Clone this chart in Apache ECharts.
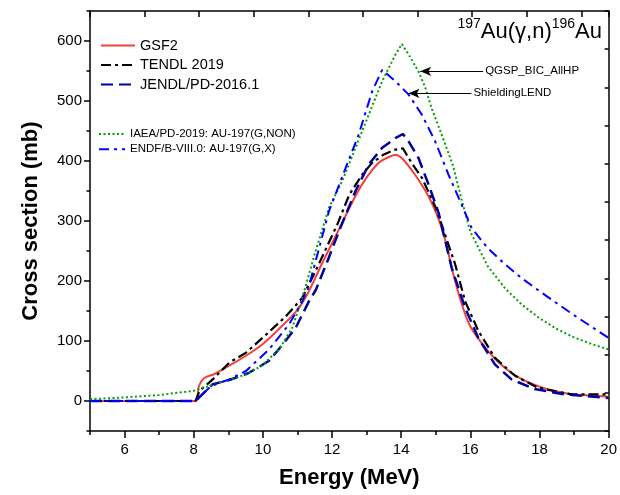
<!DOCTYPE html>
<html>
<head>
<meta charset="utf-8">
<script src="https://cdn.jsdelivr.net/npm/echarts@6/dist/echarts.min.js"></script>
<style>
  html, body { margin: 0; padding: 0; background: #fff; }
  #chart { width: 620px; height: 495px; }
</style>
</head>
<body>
<div id="chart"></div>
<script>
const FONT = '"Liberation Sans", Arial, Helvetica, sans-serif';

// GSF2 (solid red)
const gsf2E  = [5, 8.05, 8.15, 8.3, 8.6, 9.0, 9.5, 10.0, 10.5, 11.0, 11.33, 11.7, 12.2, 12.6, 12.9, 13.35, 13.7, 13.85, 14.05, 14.4, 14.8, 15.1, 15.3, 15.5, 15.75, 16.0, 16.5, 17.0, 17.5, 18.0, 18.5, 19.0, 19.5, 20.0];
const gsf2XS = [0, 0, 25, 38, 45, 58, 75, 95, 122, 152, 183, 228, 286, 333, 364, 397, 408, 410, 403, 377, 340, 300, 262, 213, 162, 124, 84, 55, 36, 24, 16, 11, 9, 7];

// TENDL 2019 (black dash-dot)
const tendlE  = [5, 8.05, 8.17, 8.55, 9.03, 9.5, 10.1, 10.66, 11.14, 11.6, 12.15, 12.5, 12.87, 13.16, 13.5, 13.83, 14.05, 14.3, 14.6, 15.0, 15.17, 15.56, 15.85, 16.23, 16.71, 17.29, 17.96, 18.92, 20];
const tendlXS = [0, 0, 17, 36, 64, 80, 111, 141, 172, 226, 294, 344, 377, 397, 411, 419, 421, 397, 372, 322, 294, 228, 166, 117, 72, 42, 22, 11, 11];

// JENDL/PD-2016.1 (navy dashed)
const jendlE  = [5, 8.05, 8.55, 9.03, 9.6, 10.18, 10.57, 10.95, 11.33, 11.53, 11.9, 12.2, 12.68, 13.06, 13.45, 13.83, 14.05, 14.21, 14.5, 14.79, 15.08, 15.46, 15.85, 16.23, 16.71, 17.19, 17.86, 18.72, 20];
const jendlXS = [0, 0, 28, 35, 47, 67, 94, 122, 166, 185, 238, 283, 350, 394, 422, 438, 445, 433, 405, 361, 314, 222, 155, 105, 61, 36, 20, 11, 5];

// IAEA/PD-2019 (green dotted)
const iaeaE  = [5, 6, 7, 8, 8.5, 9, 9.5, 10, 10.5, 10.85, 11.14, 11.5, 11.91, 12.29, 12.68, 13.06, 13.45, 13.83, 14.02, 14.21, 14.5, 14.7, 14.88, 15.17, 15.5, 15.75, 16.0, 16.5, 17.0, 17.5, 18.0, 18.5, 19.0, 19.5, 20.0];
const iaeaXS = [3, 6, 10, 17, 26, 35, 44, 60, 89, 122, 172, 245, 322, 366, 422, 477, 533, 577, 595, 578, 549, 522, 488, 444, 392, 335, 282, 225, 188, 160, 138, 120, 106, 95, 86];

// ENDF/B-VIII.0 (blue dash-dot)
const endfE  = [5, 8.05, 8.5, 9.03, 9.51, 10.18, 10.76, 11.14, 11.33, 11.91, 12.39, 12.77, 13.16, 13.45, 13.83, 14.21, 14.6, 14.98, 15.37, 15.75, 16.04, 16.5, 17.0, 17.5, 18.0, 18.5, 19.0, 19.5, 20.0];
const endfXS = [0, 0, 25, 36, 50, 86, 128, 166, 191, 316, 388, 444, 516, 552, 533, 511, 477, 433, 377, 327, 288, 255, 228, 204, 183, 163, 143, 124, 105];

// Axis ticks
const xMajorTicks = [6, 8, 10, 12, 14, 16, 18, 20];
const xMinorTicks = [5, 7, 9, 11, 13, 15, 17, 19];
const yMajorTicks = [0, 100, 200, 300, 400, 500, 600];
const yMinorTicks = [-50, 50, 150, 250, 350, 450, 550, 650];

// Model annotations: label, arrow tail, arrow tip (energy, cross section)
const annoLabels = ['QGSP_BIC_AllHP', 'ShieldingLEND'];
const annoTail   = [[16.37, 549.5], [16.03, 512.8]];
const annoTip    = [[14.55, 549.5], [14.21, 512.8]];

const pairs = (xs, ys) => xs.map((x, i) => [x, ys[i]]);

const chart = echarts.init(document.getElementById('chart'), null, { renderer: 'canvas' });

const black = '#000';
const axisLine = { show: true, onZero: false, lineStyle: { color: black, width: 1.5 } };
const hiddenLine = { show: false, onZero: false };

const option = {
  animation: false,
  backgroundColor: '#fff',
  textStyle: { fontFamily: FONT },
  grid: { left: 90, right: 9, top: 11, bottom: 64, containLabel: false },
  title: {
    text: '{s|197}{m|Au(γ,n)}{s|196}{m|Au}',
    right: 18,
    top: 17,
    padding: 0,
    textStyle: {
      fontWeight: 'normal',
      rich: {
        s: { fontSize: 14, fontWeight: 'normal', fontFamily: FONT, color: black, verticalAlign: 'top', lineHeight: 26 },
        m: { fontSize: 22, fontWeight: 'normal', fontFamily: FONT, color: black, verticalAlign: 'bottom', lineHeight: 26 }
      }
    }
  },
  legend: [
    {
      data: ['GSF2', 'TENDL 2019', 'JENDL/PD-2016.1'],
      orient: 'vertical', left: 100, top: 38,
      itemWidth: 34, itemHeight: 14, itemGap: 4.5, padding: 0,
      selectedMode: false,
      itemStyle: { opacity: 0 },
      textStyle: { fontSize: 14.5, color: black, fontFamily: FONT }
    },
    {
      data: ['IAEA/PD-2019: AU-197(G,NON)', 'ENDF/B-VIII.0: AU-197(G,X)'],
      orient: 'vertical', left: 98, top: 128,
      itemWidth: 26, itemHeight: 11, itemGap: 3.3, padding: 0,
      selectedMode: false,
      itemStyle: { opacity: 0 },
      textStyle: { fontSize: 11.5, color: black, fontFamily: FONT }
    }
  ],
  xAxis: [
    {
      type: 'value', min: 5, max: 20, position: 'bottom',
      axisLine: axisLine,
      axisTick: { show: true, inside: false, length: 7, customValues: xMajorTicks, lineStyle: { color: black, width: 1.5 } },
      axisLabel: { customValues: xMajorTicks, fontSize: 15, color: black, margin: 11, fontFamily: FONT },
      splitLine: { show: false },
      name: 'Energy (MeV)', nameLocation: 'middle', nameGap: 36,
      nameTextStyle: { fontSize: 22, fontWeight: 'bold', color: black, fontFamily: FONT }
    },
    {
      type: 'value', min: 5, max: 20, position: 'bottom',
      axisLine: hiddenLine,
      axisTick: { show: true, inside: false, length: 4, customValues: xMinorTicks, lineStyle: { color: black, width: 1.5 } },
      axisLabel: { show: false },
      splitLine: { show: false }
    },
    {
      type: 'value', min: 0, max: 9.5, interval: 1, position: 'top',
      axisLine: axisLine,
      axisTick: { show: true, inside: true, length: 6, lineStyle: { color: black, width: 1.5 } },
      axisLabel: { show: false },
      splitLine: { show: false }
    }
  ],
  yAxis: [
    {
      type: 'value', min: -50, max: 650, position: 'left',
      axisLine: axisLine,
      axisTick: { show: true, inside: false, length: 6, customValues: yMajorTicks, lineStyle: { color: black, width: 1.5 } },
      axisLabel: { customValues: yMajorTicks, fontSize: 15, color: black, margin: 8, fontFamily: FONT },
      splitLine: { show: false },
      name: 'Cross section (mb)', nameLocation: 'middle', nameGap: 48, nameRotate: 90,
      nameTextStyle: { fontSize: 22, fontWeight: 'bold', color: black, fontFamily: FONT }
    },
    {
      type: 'value', min: -50, max: 650, position: 'left',
      axisLine: hiddenLine,
      axisTick: { show: true, inside: false, length: 3.5, customValues: yMinorTicks, lineStyle: { color: black, width: 1.5 } },
      axisLabel: { show: false },
      splitLine: { show: false }
    },
    {
      type: 'value', min: 0, max: 11, interval: 1, position: 'right',
      axisLine: axisLine,
      axisTick: { show: true, inside: true, length: 4, lineStyle: { color: black, width: 1.5 } },
      axisLabel: { show: false },
      splitLine: { show: false }
    }
  ],
  series: [
    {
      name: 'GSF2', type: 'line', xAxisIndex: 0, yAxisIndex: 0,
      data: pairs(gsf2E, gsf2XS), symbol: 'none', smooth: 0.3,
      lineStyle: { color: '#f0403c', width: 2 }, itemStyle: { color: '#f0403c' }
    },
    {
      name: 'TENDL 2019', type: 'line', xAxisIndex: 0, yAxisIndex: 0,
      data: pairs(tendlE, tendlXS), symbol: 'none',
      lineStyle: { color: black, width: 2.2, type: [10, 4, 3, 4] }, itemStyle: { color: black }
    },
    {
      name: 'JENDL/PD-2016.1', type: 'line', xAxisIndex: 0, yAxisIndex: 0,
      data: pairs(jendlE, jendlXS), symbol: 'none',
      lineStyle: { color: '#0000a0', width: 2.5, type: [12, 6] }, itemStyle: { color: '#0000a0' }
    },
    {
      name: 'IAEA/PD-2019: AU-197(G,NON)', type: 'line', xAxisIndex: 0, yAxisIndex: 0,
      data: pairs(iaeaE, iaeaXS), symbol: 'none',
      lineStyle: { color: '#00a000', width: 2, type: [2, 2.5] }, itemStyle: { color: '#00a000' }
    },
    {
      name: 'ENDF/B-VIII.0: AU-197(G,X)', type: 'line', xAxisIndex: 0, yAxisIndex: 0,
      data: pairs(endfE, endfXS), symbol: 'none',
      lineStyle: { color: '#0000ff', width: 2, type: [10, 5, 3, 5] }, itemStyle: { color: '#0000ff' }
    },
    {
      name: 'annotations', type: 'line', xAxisIndex: 0, yAxisIndex: 0,
      data: [], symbol: 'none',
      markLine: {
        silent: true, animation: false,
        symbol: ['none', 'arrow'], symbolSize: [7, 11],
        lineStyle: { color: black, width: 1, type: 'solid' },
        label: { show: false },
        data: annoLabels.map((_, i) => [{ coord: annoTail[i] }, { coord: annoTip[i] }])
      }
    }
  ]
};

chart.setOption(option);

// Annotation texts placed just right of each arrow tail
const annoGraphics = annoLabels.map((txt, i) => {
  const p = chart.convertToPixel({ xAxisIndex: 0, yAxisIndex: 0 }, annoTail[i]);
  return {
    type: 'text', silent: true,
    style: { text: txt, x: p[0] + 2, y: p[1], align: 'left', verticalAlign: 'middle',
             fontSize: 11.5, fontFamily: FONT, fill: black }
  };
});
chart.setOption({ graphic: annoGraphics });
</script>
</body>
</html>
